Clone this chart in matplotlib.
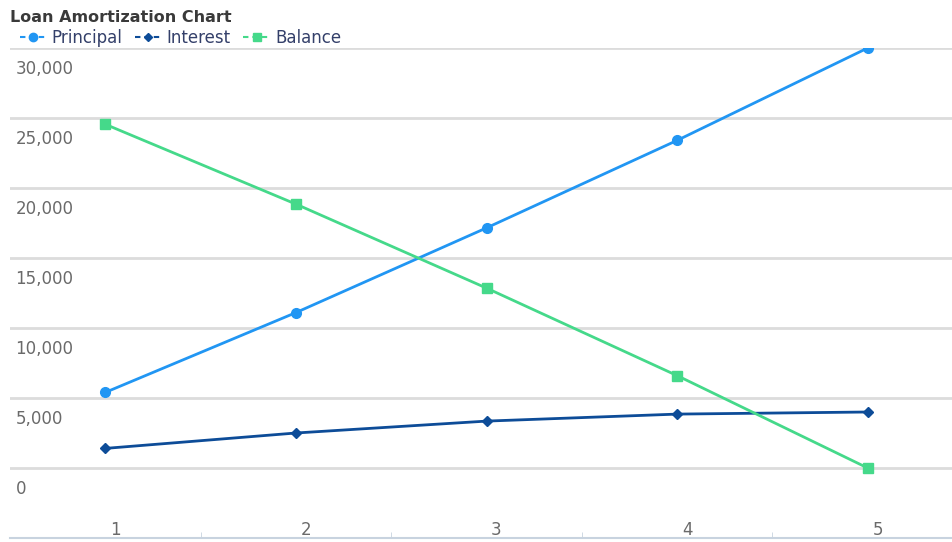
import matplotlib.pyplot as plt
import matplotlib.transforms as mtransforms
from matplotlib.lines import Line2D

plt.rcParams['font.family'] = ['DejaVu Sans']

years = [1, 2, 3, 4, 5]
principal = [5400, 11100, 17150, 23400, 30000]
interest = [1400, 2500, 3350, 3850, 4000]
balance = [24550, 18850, 12850, 6600, 0]
yticks = [0, 5000, 10000, 15000, 20000, 25000, 30000]

series = [
    ('Principal', principal, '#2196F3', 'o', 7),
    ('Interest', interest, '#0D4C98', 'D', 5),
    ('Balance', balance, '#45D98A', 's', 7),
]

fig = plt.figure(figsize=(9.53, 5.42), dpi=100)
ax = fig.add_axes([10 / 953, 4 / 542, 953 / 953, 490 / 542])

handles = []
for name, vals, col, mk, ms in series:
    ax.plot(years, vals, color=col, lw=2, marker=mk, ms=ms)
    handles.append(Line2D([], [], color=col, lw=1.5, marker=mk, ms=ms - 1,
                          dashes=(2.6, 1.9), label=name))

ax.set_xlim(0.5, 5.5)
ax.set_ylim(-5000, 30000)

for v in yticks:
    ax.axhline(v, color='#dcdcdc', lw=2, zorder=0)
    ax.annotate(f'{v:,}', xy=(0, v), xycoords=('axes fraction', 'data'),
                xytext=(4, -9), textcoords='offset points', va='top', ha='left',
                fontsize=12, color='#6a6a6a')

ax.set_yticks([])
ax.set_xticks(years)
ax.set_xticklabels([str(y) for y in years])
ax.tick_params(axis='x', length=0, pad=-12, labelsize=12, labelcolor='#6a6a6a')
# category boundary ticks on the bottom axis
ax.set_xticks([1.5, 2.5, 3.5, 4.5], minor=True)
ax.tick_params(axis='x', which='minor', length=4, color='#c8d3df', direction='in')

for s in ['top', 'right', 'left']:
    ax.spines[s].set_visible(False)
ax.spines['bottom'].set_color('#c8d3df')
ax.spines['bottom'].set_linewidth(1.5)

# x labels sit a little right of the points
offset = mtransforms.ScaledTranslation(10 / 100, 0, fig.dpi_scale_trans)
for lab in ax.get_xticklabels():
    lab.set_transform(lab.get_transform() + offset)

fig.text(10 / 953, 1 - 18 / 542, 'Loan Amortization Chart', fontsize=11.5, fontweight='bold',
         color='#3a3a3a', va='center', ha='left')
fig.legend(handles=handles, loc='center left', bbox_to_anchor=(20 / 953, 1 - 38 / 542),
           ncol=3, frameon=False, fontsize=12, handlelength=1.6, handletextpad=0.3,
           columnspacing=0.75, borderaxespad=0, borderpad=0, labelcolor='#34406a')

fig.savefig('out.png', dpi=100)
